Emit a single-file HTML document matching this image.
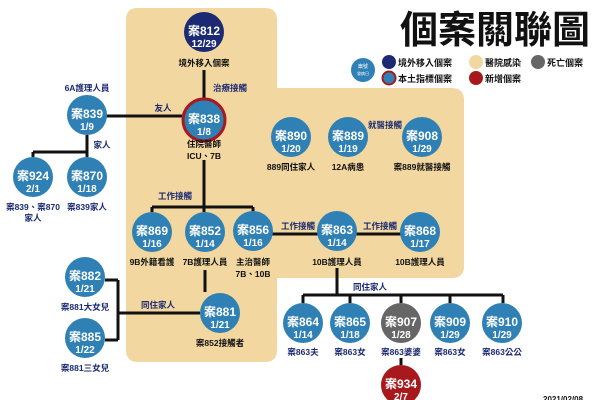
<!DOCTYPE html>
<html><head><meta charset="utf-8"><style>
html,body{margin:0;padding:0;background:#fff;}
svg{display:block;font-family:"Liberation Sans","Noto Sans CJK TC",sans-serif;}
.n{fill:#fff;font-weight:bold;font-size:12px;text-anchor:middle;}
.d{fill:#fff;font-weight:bold;font-size:10px;text-anchor:middle;}
.l{fill:#111;font-weight:bold;font-size:8.5px;text-anchor:middle;}
.b{fill:#1b2a72;font-weight:bold;font-size:8.5px;text-anchor:middle;}
.ln{stroke:#111;stroke-width:3;fill:none;}
</style></head><body>
<svg width="600" height="400" viewBox="0 0 600 400">
<path d="M137 8 H265 Q277 8 277 20 V88 H452 Q464 88 464 100 V266 Q464 278 452 278 H277 V350 Q277 362 265 362 H138 Q126 362 126 350 V20 Q126 8 137 8 Z" fill="#f2d7a0"/>
<text x="590" y="43" font-size="38" font-weight="bold" text-anchor="end" fill="#111">個案關聯圖</text>
<circle cx="363" cy="70" r="12" fill="#2f80b5"/>
<text x="363" y="68" font-size="5" fill="#fff" text-anchor="middle">案號</text>
<text x="363" y="75" font-size="4" fill="#fff" text-anchor="middle">發病日</text>
<circle cx="389" cy="62" r="7" fill="#1b2a72"/>
<circle cx="389" cy="78" r="6.5" fill="#2f80b5" stroke="#a8191d" stroke-width="2"/>
<circle cx="476" cy="62" r="7" fill="#f2d7a0"/>
<circle cx="476" cy="78" r="7" fill="#a8191d"/>
<circle cx="538" cy="62" r="7" fill="#666"/>
<g font-size="9" font-weight="bold" fill="#111">
<text x="398" y="66">境外移入個案</text><text x="398" y="82">本土指標個案</text>
<text x="485" y="66">醫院感染</text><text x="485" y="82">新增個案</text>
<text x="547" y="66">死亡個案</text></g>
<path class="ln" d="M204 70 V98 M87 116 H182 M87 135 V152 M33 152 H87 V157 M33 152 V157 M204 160 V207 M152 207 H253 M152 207 V212 M204 207 V212 M253 207 V212 M253 234 H420 M205 270 V292 M118 280 V340 M105 280 H118 M105 340 H118 M118 313 H200 M337 268 V295 M303 295 H503 M303 295 V303 M350 295 V303 M401 295 V303 M450 295 V303 M503 295 V303 M401 358 V365"/>
<circle cx="204" cy="32" r="20" fill="#1b2a72"/>
<circle cx="204" cy="120" r="21" fill="#2f80b5" stroke="#a8191d" stroke-width="3"/>
<g fill="#2f80b5">
<circle cx="87" cy="115" r="20"/><circle cx="33" cy="177" r="20"/><circle cx="87" cy="177" r="20"/>
<circle cx="291" cy="137" r="20"/><circle cx="348" cy="137" r="20"/><circle cx="422" cy="137" r="20"/>
<circle cx="152" cy="232" r="20"/><circle cx="205" cy="232" r="20"/><circle cx="253" cy="231" r="20"/>
<circle cx="337" cy="231" r="20"/><circle cx="420" cy="232" r="20"/>
<circle cx="85" cy="277" r="20"/><circle cx="85" cy="338" r="20"/><circle cx="220" cy="313" r="20"/>
<circle cx="303" cy="323" r="20"/><circle cx="350" cy="323" r="20"/><circle cx="450" cy="323" r="20"/><circle cx="502" cy="323" r="20"/>
</g>
<circle cx="401" cy="323" r="20" fill="#666"/>
<circle cx="401" cy="385" r="20" fill="#a8191d"/>
<g>
<text class="n" x="204" y="35">案812</text><text class="d" x="204" y="47">12/29</text>
<text class="n" x="204" y="123">案838</text><text class="d" x="204" y="135">1/8</text>
<text class="n" x="87" y="118">案839</text><text class="d" x="87" y="130">1/9</text>
<text class="n" x="33" y="180">案924</text><text class="d" x="33" y="192">2/1</text>
<text class="n" x="87" y="180">案870</text><text class="d" x="87" y="192">1/18</text>
<text class="n" x="291" y="140">案890</text><text class="d" x="291" y="152">1/20</text>
<text class="n" x="348" y="140">案889</text><text class="d" x="348" y="152">1/19</text>
<text class="n" x="422" y="140">案908</text><text class="d" x="422" y="152">1/29</text>
<text class="n" x="152" y="235">案869</text><text class="d" x="152" y="247">1/16</text>
<text class="n" x="205" y="235">案852</text><text class="d" x="205" y="247">1/14</text>
<text class="n" x="253" y="234">案856</text><text class="d" x="253" y="246">1/16</text>
<text class="n" x="337" y="234">案863</text><text class="d" x="337" y="246">1/14</text>
<text class="n" x="420" y="235">案868</text><text class="d" x="420" y="247">1/17</text>
<text class="n" x="85" y="280">案882</text><text class="d" x="85" y="292">1/21</text>
<text class="n" x="85" y="341">案885</text><text class="d" x="85" y="353">1/22</text>
<text class="n" x="220" y="316">案881</text><text class="d" x="220" y="328">1/21</text>
<text class="n" x="303" y="326">案864</text><text class="d" x="303" y="338">1/14</text>
<text class="n" x="350" y="326">案865</text><text class="d" x="350" y="338">1/18</text>
<text class="n" x="401" y="326">案907</text><text class="d" x="401" y="338">1/28</text>
<text class="n" x="450" y="326">案909</text><text class="d" x="450" y="338">1/29</text>
<text class="n" x="502" y="326">案910</text><text class="d" x="502" y="338">1/29</text>
<text class="n" x="401" y="388">案934</text><text class="d" x="401" y="400">2/7</text>
</g>
<g>
<text class="l" x="204" y="66">境外移入個案</text>
<text class="l" x="204" y="147">住院醫師</text><text class="l" x="204" y="159">ICU、7B</text>
<text class="l" x="291" y="170">889同住家人</text><text class="l" x="348" y="170">12A病患</text><text class="l" x="422" y="170">案889就醫接觸</text>
<text class="l" x="152" y="265">9B外籍看護</text><text class="l" x="205" y="265">7B護理人員</text>
<text class="l" x="253" y="265">主治醫師</text><text class="l" x="253" y="277">7B、10B</text>
<text class="l" x="337" y="265">10B護理人員</text><text class="l" x="420" y="265">10B護理人員</text>
<text class="l" x="220" y="346">案852接觸者</text>
</g>
<g>
<text class="b" x="230" y="91">治療接觸</text>
<text class="b" x="87" y="91">6A護理人員</text>
<text class="b" x="163" y="111">友人</text>
<text class="b" x="102" y="148">家人</text>
<text class="b" x="33" y="210">案839、案870</text><text class="b" x="33" y="221">家人</text>
<text class="b" x="87" y="210">案839家人</text>
<text class="b" x="385" y="128">就醫接觸</text>
<text class="b" x="175" y="199">工作接觸</text>
<text class="b" x="298" y="229">工作接觸</text>
<text class="b" x="380" y="229">工作接觸</text>
<text class="b" x="158" y="308">同住家人</text>
<text class="b" x="370" y="290">同住家人</text>
<text class="b" x="85" y="310">案881大女兒</text>
<text class="b" x="85" y="371">案881三女兒</text>
<text class="b" x="303" y="355">案863夫</text><text class="b" x="350" y="355">案863女</text>
<text class="b" x="401" y="355">案863婆婆</text><text class="b" x="450" y="355">案863女</text>
<text class="b" x="502" y="355">案863公公</text>
</g>
<text x="543" y="402" font-size="8" font-weight="bold" fill="#111">2021/02/08</text>
</svg>
</body></html>
